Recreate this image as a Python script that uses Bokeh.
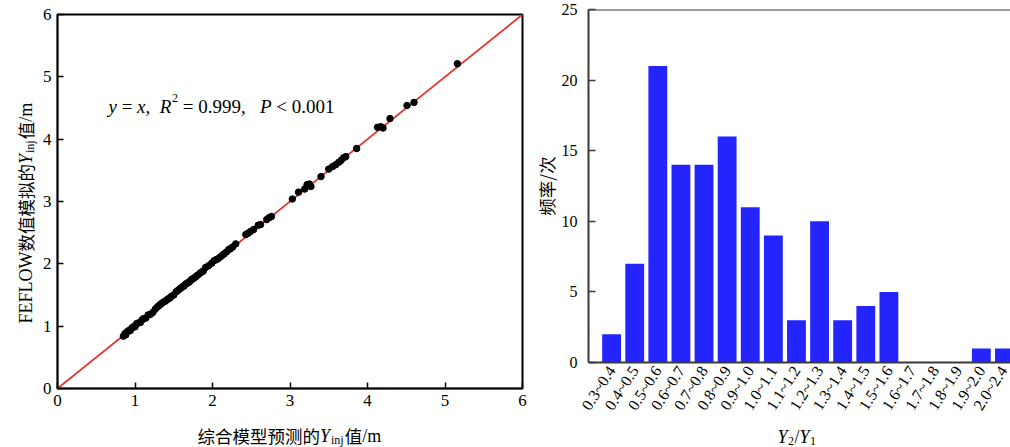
import math
from bokeh.plotting import figure
from bokeh.models import FixedTicker, Label, Span
from bokeh.layouts import row, column
from bokeh.core.properties import value
from bokeh.embed import file_html
from bokeh.resources import INLINE

# ---------------- data ----------------
pred = [0.85, 0.87, 0.88, 0.90, 0.92, 0.94, 0.96, 0.98, 1.00, 1.02, 1.04, 1.07, 1.09, 1.11, 1.14,
        1.17, 1.20, 1.23, 1.26, 1.29, 1.31, 1.33, 1.35, 1.37, 1.39, 1.41, 1.43, 1.45, 1.47, 1.50,
        1.53, 1.55, 1.57, 1.59, 1.61, 1.63, 1.65, 1.67, 1.69, 1.71, 1.73, 1.75, 1.77, 1.79, 1.81,
        1.84, 1.86, 1.88, 1.91, 1.95, 1.99, 2.02, 2.05, 2.07, 2.10, 2.13, 2.15, 2.18, 2.21, 2.23,
        2.26, 2.30, 2.43, 2.46, 2.49, 2.53, 2.59, 2.62, 2.70, 2.73, 2.76, 3.03, 3.11, 3.19, 3.22,
        3.25, 3.27, 3.40, 3.50, 3.55, 3.59, 3.63, 3.66, 3.69, 3.72, 3.86, 4.13, 4.17, 4.20, 4.29,
        4.51, 4.60, 5.16]
sim = [0.84, 0.88, 0.86, 0.91, 0.93, 0.93, 0.97, 0.99, 0.99, 1.04, 1.05, 1.06, 1.10, 1.12, 1.13,
       1.18, 1.19, 1.22, 1.27, 1.31, 1.33, 1.35, 1.37, 1.39, 1.40, 1.42, 1.44, 1.45, 1.48, 1.50,
       1.55, 1.57, 1.59, 1.61, 1.63, 1.64, 1.67, 1.69, 1.70, 1.72, 1.75, 1.76, 1.78, 1.80, 1.82,
       1.85, 1.87, 1.88, 1.94, 1.97, 2.01, 2.05, 2.07, 2.08, 2.11, 2.14, 2.16, 2.19, 2.23, 2.24,
       2.27, 2.32, 2.47, 2.49, 2.52, 2.55, 2.62, 2.63, 2.71, 2.74, 2.76, 3.04, 3.15, 3.20, 3.27,
       3.28, 3.24, 3.40, 3.52, 3.56, 3.59, 3.63, 3.66, 3.70, 3.72, 3.85, 4.19, 4.20, 4.18, 4.33,
       4.54, 4.59, 5.21]
fit_x = [0, 6]
fit_y = [0, 6]
scatter_ticks = [0, 1, 2, 3, 4, 5, 6]

ratio_bins = ["0.3~0.4", "0.4~0.5", "0.5~0.6", "0.6~0.7", "0.7~0.8", "0.8~0.9", "0.9~1.0",
              "1.0~1.1", "1.1~1.2", "1.2~1.3", "1.3~1.4", "1.4~1.5", "1.5~1.6", "1.6~1.7",
              "1.7~1.8", "1.8~1.9", "1.9~2.0", "2.0~2.4"]
freq = [2, 7, 21, 14, 14, 16, 11, 9, 3, 10, 3, 4, 5, 0, 0, 0, 1, 1]
freq_ticks = [0, 5, 10, 15, 20, 25]

SERIF = "Liberation Serif"
CJK = "Noto Sans CJK SC"
W, H = 1010, 447


def text_canvas(width, height):
    f = figure(width=width, height=height, x_range=(0, width), y_range=(0, height),
               output_backend="svg", toolbar_location=None, title=None,
               x_axis_location=None, y_axis_location=None, frame_align=False,
               min_border_left=0, min_border_right=0, min_border_top=0, min_border_bottom=0)
    f.xgrid.visible = False
    f.ygrid.visible = False
    f.outline_line_color = None
    f.background_fill_color = "white"
    f.border_fill_color = "white"
    return f


def put(f, x, y, txt, size, font=SERIF, italic=False, angle=0.0):
    f.text(x=[x], y=[y], text=[txt], text_font=value(font), text_font_size=value(size),
           text_font_style="italic" if italic else "normal", text_color="black",
           text_align="left", text_baseline="alphabetic", angle=angle)


def add_piece(p, x, y, txt, size, font=SERIF, italic=False):
    p.add_layout(Label(x=x, y=y, text=txt, text_font=font, text_font_size=size,
                       text_font_style="italic" if italic else "normal",
                       text_color="black", text_align="left", text_baseline="alphabetic"))


# ---------------- left: scatter ----------------
T1W = 39
L_LEFT, L_TOP, L_FW, L_FH = 57, 14, 465, 374
P1W, P1H = 530 - T1W, 415
p1 = figure(width=P1W, height=P1H, x_range=(0, 6), y_range=(0, 6),
            output_backend="svg", toolbar_location=None, title=None, frame_align=False,
            min_border_left=L_LEFT - T1W, min_border_right=P1W - (L_LEFT - T1W) - L_FW,
            min_border_top=L_TOP, min_border_bottom=P1H - L_TOP - L_FH)
p1.xgrid.visible = False
p1.ygrid.visible = False
p1.outline_line_color = "black"
p1.outline_line_width = 2
p1.outline_line_alpha = 1
p1.background_fill_color = "white"
p1.border_fill_color = "white"
for ax in (p1.xaxis[0], p1.yaxis[0]):
    ax.ticker = FixedTicker(ticks=scatter_ticks)
    ax.minor_tick_line_color = None
    ax.major_tick_in = 6
    ax.major_tick_out = 0
    ax.major_tick_line_width = 1.5
    ax.major_tick_line_color = "black"
    ax.axis_line_color = "black"
    ax.axis_line_width = 1.5
    ax.major_label_text_font = SERIF
    ax.major_label_text_font_size = "17px"
    ax.major_label_text_color = "black"
p1.xaxis[0].major_label_standoff = 6
p1.yaxis[0].major_label_standoff = 6

p1.line(fit_x, fit_y, line_color="#e8322e", line_width=1.8)
p1.scatter(pred, sim, size=6.5, fill_color="black", line_color="black")


def lx(px):
    return (px - L_LEFT) / (L_FW / 6)


def ly(py):
    return (L_TOP + L_FH - py) / (L_FH / 6)


# annotation  y = x,  R^2 = 0.999,  P < 0.001
fs = 19
base, sup = 106, 97
add_piece(p1, lx(108), ly(base), "y", f"{fs}px", italic=True)
add_piece(p1, lx(121.2), ly(base), "=", f"{fs}px")
add_piece(p1, lx(136.6), ly(base), "x", f"{fs}px", italic=True)
add_piece(p1, lx(145.1), ly(base), ",", f"{fs}px")
add_piece(p1, lx(159.3), ly(base), "R", f"{fs}px", italic=True)
add_piece(p1, lx(171.5), ly(sup), "2", "12px")
add_piece(p1, lx(182.2), ly(base), "= 0.999,", f"{fs}px")
add_piece(p1, lx(259.4), ly(base), "P", f"{fs}px", italic=True)
add_piece(p1, lx(275.8), ly(base), "< 0.001", f"{fs}px")

# y title of scatter (rotated, reads upward)
t1 = text_canvas(T1W, H)
A = math.pi / 2
yb = 25
pos = 323.0
put(t1, yb, H - pos, "FEFLOW", "18px", angle=A); pos -= 4.0 * 18
put(t1, yb, H - pos, "数值模拟的", "17.5px", font=CJK, angle=A); pos -= 5 * 17.5
put(t1, yb, H - pos, "Y", "18px", italic=True, angle=A); pos -= 0.556 * 18 + 1
put(t1, yb + 4, H - pos, "inj", "12px", angle=A); pos -= 1.056 * 12 + 1
put(t1, yb, H - pos, "值", "17.5px", font=CJK, angle=A); pos -= 17.5
put(t1, yb, H - pos, "/m", "18px", angle=A)

# x title of scatter
t2 = text_canvas(P1W, H - P1H)
xb = 435
px = 197.0
put(t2, px - T1W, H - xb, "综合模型预测的", "17.5px", font=CJK); px += 7 * 17.5
put(t2, px - T1W, H - xb, "Y", "18px", italic=True); px += 0.556 * 18 + 1
put(t2, px - T1W, H - xb - 4, "inj", "12px"); px += 1.056 * 12 + 1
put(t2, px - T1W, H - xb, "值", "17.5px", font=CJK); px += 17.5
put(t2, px - T1W, H - xb, "/m", "18px")

# ---------------- right: histogram ----------------
X2 = 530
R_LEFT, R_TOP, R_FW, R_FH = 577, 9, 433, 353
P2W, P2H = W - X2, 422
PITCH = 23.71
p2 = figure(width=P2W, height=P2H, x_range=(0, R_FW / PITCH), y_range=(0, 25),
            output_backend="svg", toolbar_location=None, title=None, frame_align=False,
            min_border_left=R_LEFT - X2, min_border_right=0,
            min_border_top=R_TOP, min_border_bottom=P2H - R_TOP - R_FH)
p2.xgrid.visible = False
p2.ygrid.visible = False
p2.outline_line_color = None
p2.background_fill_color = "white"
p2.border_fill_color = "white"

positions = list(range(1, len(ratio_bins) + 1))
p2.vbar(x=positions, top=freq, width=0.815, fill_color="#2424ff", line_color=None)
p2.add_layout(Span(location=25, dimension="width", line_color="#3a3a3a", line_width=2))

xa = p2.xaxis[0]
xa.ticker = FixedTicker(ticks=positions)
xa.major_label_overrides = {i: lab for i, lab in zip(positions, ratio_bins)}
xa.major_label_orientation = 1.0
xa.major_tick_in = 0
xa.major_tick_out = 0
xa.minor_tick_line_color = None
xa.axis_line_color = "#3a3a3a"
xa.axis_line_width = 2
xa.major_label_text_font = SERIF
xa.major_label_text_font_size = "16px"
xa.major_label_text_color = "black"
xa.major_label_standoff = 5

ya = p2.yaxis[0]
ya.ticker = FixedTicker(ticks=freq_ticks)
ya.major_tick_in = 7
ya.major_tick_out = 0
ya.major_tick_line_color = "#3a3a3a"
ya.major_tick_line_width = 1.5
ya.minor_tick_line_color = None
ya.axis_line_color = "#3a3a3a"
ya.axis_line_width = 2
ya.major_label_text_font = SERIF
ya.major_label_text_font_size = "16px"
ya.major_label_text_color = "black"
ya.major_label_standoff = 11
ya.axis_label = "频率/次"
ya.axis_label_text_font = CJK
ya.axis_label_text_font_size = "17.5px"
ya.axis_label_text_font_style = "normal"
ya.axis_label_text_color = "black"
ya.axis_label_standoff = 0

# x title of histogram: Y2/Y1
t4 = text_canvas(P2W, H - P2H)
tb = 436
qx = 777.0
put(t4, qx - X2, H - tb, "Y", "18px", italic=True); qx += 0.556 * 18 + 0.5
put(t4, qx - X2, H - tb - 4, "2", "12px"); qx += 6.5
put(t4, qx - X2, H - tb, "/", "18px"); qx += 0.278 * 18
put(t4, qx - X2, H - tb, "Y", "18px", italic=True); qx += 0.556 * 18 + 0.5
put(t4, qx - X2, H - tb - 4, "1", "12px")

layout = row(t1, column(p1, t2, spacing=0), column(p2, t4, spacing=0), spacing=0)
open("out.html", "w").write(file_html(layout, INLINE))
